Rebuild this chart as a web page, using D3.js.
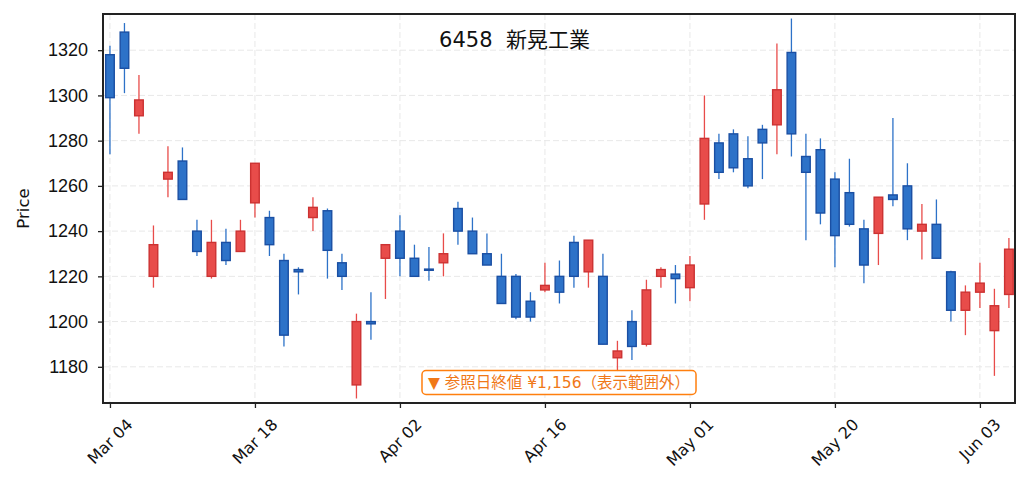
<!DOCTYPE html>
<html>
<head>
<meta charset="utf-8">
<script src="https://cdn.jsdelivr.net/npm/d3@7"></script>
<style>
    body { margin: 0; background: #fff; }
    svg { display: block; font-family: "DejaVu Sans", "Noto Sans CJK JP", sans-serif; }
</style>
</head>
<body>
<svg id="chart" width="1029" height="491"></svg>
<script>
// trading-day candles, index 0 = Mar 04
var opens  = [1318,1328,1291,1220,1263,1271,1240,1220,1235,1231,1252.5,1246,1227,1223,1246,1249,1226,1172,1200,1228,
              1240,1228,1223.2,1226,1250,1240,1230,1220,1220,1209,1214,1220,1235,1222,1220,1184,1200,1190,1220,1221,
              1215,1252,1279,1283,1272,1285,1287,1319,1273,1276,1263,1257,1241,1239,1256,1260,1240,1243,1222,1205,
              1213,1196,1212];
var highs  = [1322,1332,1309,1242.5,1277.5,1277,1245,1245,1241,1245,1270,1249,1230,1224,1255,1250,1230,1203.5,1213,1234,
              1247,1234,1233,1239,1253,1246,1239,1230,1221,1213,1226,1227,1238,1236,1230,1191.5,1205,1218.5,1224,1225,
              1229,1300,1283,1285,1282,1287,1323,1334,1283,1281,1266,1272,1245,1255,1290,1270,1252,1254,1222.5,1216,
              1226,1214.5,1237];
var lows   = [1274,1301,1283,1215,1255,1254,1229,1219,1225,1231,1246,1229,1189,1212,1240,1219,1214,1166,1192,1210,
              1220,1220,1218,1220,1234,1230,1225,1208,1201,1200,1213,1208,1215,1215,1190,1178,1183,1189,1215,1208,
              1209,1245,1263,1266,1259,1263,1274,1273,1236,1243,1224,1242,1217,1225,1251,1236,1227.5,1228,1200,1194,
              1206,1176,1206];
var closes = [1299,1312,1298,1234,1266,1254,1231,1235,1227,1240,1270,1234,1194,1222,1250.5,1231.5,1220,1200,1199,1234,
              1228,1220,1222.8,1230,1240,1230,1225,1208,1202,1202,1216,1213,1220,1236,1190,1187,1189,1214,1223,1219,
              1225,1281,1266,1268,1260,1279,1302.5,1283,1266,1248,1238,1243,1225,1255,1254,1241,1243,1228,1205,1213,
              1217,1207,1232];

var tickIndex  = [0, 10, 20, 30, 40, 50, 60];
var tickLabels = ["Mar 04", "Mar 18", "Apr 02", "Apr 16", "May 01", "May 20", "Jun 03"];
var priceTicks = [1180, 1200, 1220, 1240, 1260, 1280, 1300, 1320];

var title = "6458  新晃工業";
var note = "▼ 参照日終値 ¥1,156（表示範囲外）";

var candles = opens.map(function(o, i) {
    return { i: i, o: o, h: highs[i], l: lows[i], c: closes[i] };
});

var svg = d3.select("#chart");
var margin = { left: 103, top: 14, right: 14, bottom: 88 };
var W = 1029 - margin.left - margin.right;
var H = 491 - margin.top - margin.bottom;

var x = d3.scaleLinear().domain([-0.48, 62.42]).range([0, W]);
var y = d3.scaleLinear().domain([1164, 1336]).range([H, 0]);

var g = svg.append("g").attr("transform", "translate(" + margin.left + "," + margin.top + ")");

// grid
g.append("g").selectAll("line").data(priceTicks).enter().append("line")
    .attr("x1", 0).attr("x2", W)
    .attr("y1", function(d) { return y(d); }).attr("y2", function(d) { return y(d); })
    .attr("stroke", "#e8e8e8").attr("stroke-width", 1).attr("stroke-dasharray", "6,3");
g.append("g").selectAll("line").data(tickIndex).enter().append("line")
    .attr("y1", 0).attr("y2", H)
    .attr("x1", function(d) { return x(d); }).attr("x2", function(d) { return x(d); })
    .attr("stroke", "#e8e8e8").attr("stroke-width", 1).attr("stroke-dasharray", "6,3");

var up = { fill: "#e84c4a", edge: "#cc3232" };
var down = { fill: "#2d72c8", edge: "#1a4fa3" };
function col(d) { return d.c >= d.o ? up : down; }

var bw = 8.6;
var cg = g.append("g");
cg.selectAll("line.wick").data(candles).enter().append("line")
    .attr("class", "wick")
    .attr("x1", function(d) { return x(d.i); }).attr("x2", function(d) { return x(d.i); })
    .attr("y1", function(d) { return y(d.h); }).attr("y2", function(d) { return y(d.l); })
    .attr("stroke", function(d) { return col(d).fill; }).attr("stroke-width", 1.3);
cg.selectAll("rect").data(candles).enter().append("rect")
    .attr("x", function(d) { return x(d.i) - bw / 2; })
    .attr("width", bw)
    .attr("y", function(d) { return y(Math.max(d.o, d.c)); })
    .attr("height", function(d) { return Math.max(1.2, Math.abs(y(d.o) - y(d.c))); })
    .attr("fill", function(d) { return col(d).fill; })
    .attr("stroke", function(d) { return col(d).edge; })
    .attr("stroke-width", 1.4);

// axes
var yAxis = d3.axisLeft(y).tickValues(priceTicks).tickSize(5).tickPadding(10).tickFormat(d3.format("d"));
var ya = g.append("g").call(yAxis);
ya.select(".domain").remove();
ya.selectAll("line").attr("stroke", "#222").attr("stroke-width", 1.3);
ya.selectAll("text").attr("font-size", 18).attr("fill", "#111").attr("font-family", null);

var xAxis = d3.axisBottom(x).tickValues(tickIndex).tickSize(5).tickFormat("");
var xa = g.append("g").attr("transform", "translate(0," + H + ")").call(xAxis);
xa.select(".domain").remove();
xa.selectAll("line").attr("stroke", "#222").attr("stroke-width", 1.3);

var xl = g.append("g").selectAll("text").data(tickIndex).enter().append("text")
    .attr("text-anchor", "middle").attr("dy", "0.35em")
    .attr("font-size", 16).attr("fill", "#111")
    .text(function(d, i) { return tickLabels[i]; });
xl.attr("transform", function(d) {
    var len = this.getComputedTextLength();
    var half = (len + 16) * Math.SQRT1_2 / 2;
    return "translate(" + x(d) + "," + (H + 13 + half) + ") rotate(-45)";
});

g.append("rect").attr("width", W).attr("height", H)
    .attr("fill", "none").attr("stroke", "#222").attr("stroke-width", 2);

// labels
svg.append("text").attr("transform", "translate(29," + (margin.top + H / 2) + ") rotate(-90)")
    .attr("text-anchor", "middle").attr("font-size", 16.5).attr("fill", "#111").text("Price");

svg.append("text").attr("x", 1029 / 2).attr("y", 47)
    .attr("text-anchor", "middle").attr("font-size", 21).attr("fill", "#111")
    .style("white-space", "pre").text(title);

var ng = g.append("g");
var nt = ng.append("text").attr("x", W / 2).attr("y", H - 20.5)
    .attr("text-anchor", "middle").attr("dy", "0.35em")
    .attr("font-size", 15.5).attr("fill", "#f07818").text(note);
var bb = nt.node().getBBox();
ng.insert("rect", "text")
    .attr("x", bb.x - 6).attr("y", H - 20.5 - 12)
    .attr("width", bb.width + 12).attr("height", 24)
    .attr("rx", 4).attr("fill", "#fff").attr("fill-opacity", 0.9)
    .attr("stroke", "#ff7f0e").attr("stroke-width", 1.5);
</script>
</body>
</html>
